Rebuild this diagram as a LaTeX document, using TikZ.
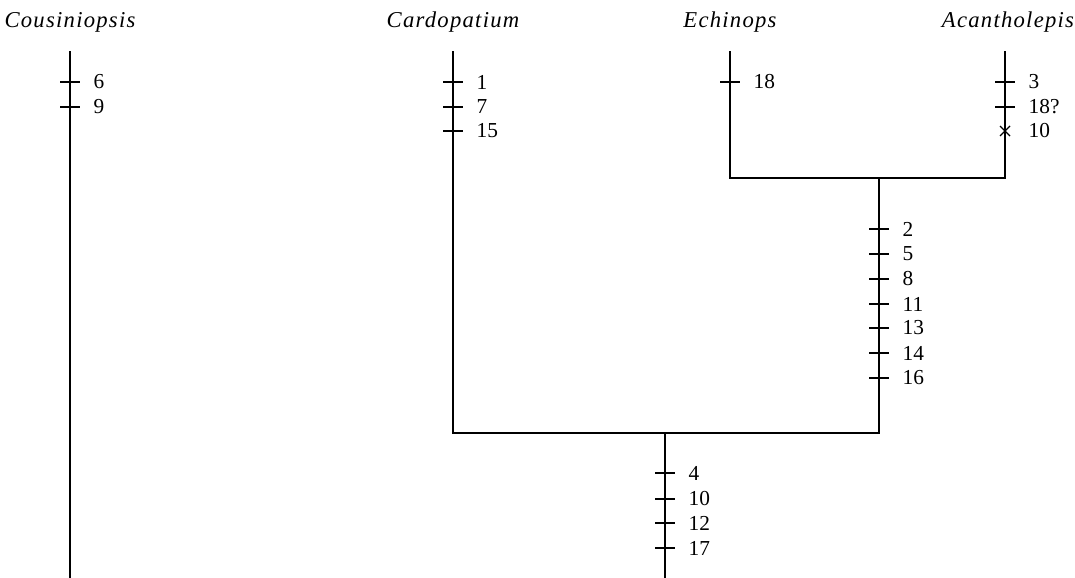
\documentclass[tikz,border=0pt]{standalone}
\usepackage{fontspec}
\setmainfont{Liberation Serif}
\begin{document}
\begin{tikzpicture}[x=0.75pt,y=-0.75pt,line width=1pt,
  taxon/.style={font=\fontsize{17}{17}\selectfont\itshape\addfontfeature{LetterSpace=5.5}, inner sep=0pt, anchor=base},
  trait/.style={font=\fontsize{16}{16}\selectfont, inner sep=0pt, anchor=west},
  branch/.style={line width=1pt, line cap=rect},
  tickmark/.style={line width=1pt}]
\useasboundingbox (0,0) rectangle (1075,578);

% taxon labels
\node[taxon] (tCou) at (70,27) {Cousiniopsis};
\node[taxon] (tCar) at (453,27) {Cardopatium};
\node[taxon] (tEch) at (730,27) {Echinops};
\node[taxon] (tAca) at (1008,27) {Acantholepis};

% branch coordinates
\coordinate (cT) at (70,52);   \coordinate (cB) at (70,578);
\coordinate (dT) at (453,52);  \coordinate (dJ) at (453,433);
\coordinate (eT) at (730,52);  \coordinate (eJ) at (730,178);
\coordinate (aT) at (1005,52); \coordinate (aJ) at (1005,178);
\coordinate (eaJ) at (879,178); \coordinate (eaB) at (879,433);
\coordinate (rJ) at (665,433); \coordinate (rB) at (665,578);

\draw[branch] (cT) -- (cB);
\draw[branch] (dT) -- (dJ) -- (eaB) -- (eaJ);
\draw[branch] (eT) -- (eJ) -- (aJ) -- (aT);
\draw[branch] (rJ) -- (rB);

% character ticks
\foreach \x/\y/\t/\n in {
  70/82/6/c6, 70/107/9/c9,
  453/82/1/d1, 453/107/7/d7, 453/131/15/d15,
  730/82/18/e18,
  1005/82/3/a3, 1005/107/18?/a18,
  879/229/2/m2, 879/254/5/m5, 879/279/8/m8, 879/304/11/m11,
  879/328/13/m13, 879/353/14/m14, 879/378/16/m16,
  665/473/4/r4, 665/499/10/r10, 665/523/12/r12, 665/548/17/r17}{
  \draw[tickmark] (\x-10,\y) -- (\x+10,\y);
  \node[trait] (\n) at (\x+23,\y) {\t};
}

% reversal (cross) mark
\coordinate (xc) at (1005,131);
\draw[tickmark] ([shift={(-5,-5)}]xc) -- ([shift={(5,5)}]xc)
                ([shift={(-5,5)}]xc) -- ([shift={(5,-5)}]xc);
\node[trait] (a10) at (1028,131) {10};
\end{tikzpicture}
\end{document}
